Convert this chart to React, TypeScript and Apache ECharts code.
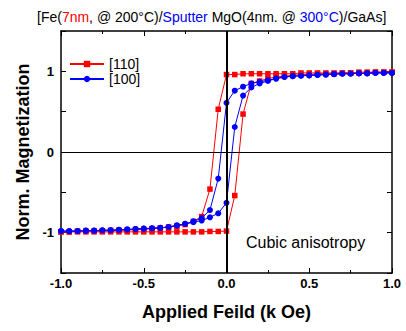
import React, { useEffect, useRef } from "react";
import * as echarts from "echarts";

const FONT = "'Liberation Sans', Arial, sans-serif";

// Field (kOe) for the descending sweep (+1 -> -1) and ascending sweep (-1 -> +1)
const fieldDown = [
  1.0, 0.95, 0.9, 0.85, 0.8, 0.75, 0.7, 0.65, 0.6, 0.55, 0.5, 0.45, 0.4, 0.35, 0.3, 0.25, 0.2, 0.15, 0.1, 0.05, 0.0,
  -0.05, -0.1, -0.15, -0.2, -0.25, -0.3, -0.35, -0.4, -0.45, -0.5, -0.55, -0.6, -0.65, -0.7, -0.75, -0.8, -0.85, -0.9, -0.95, -1.0,
];
const fieldUp = [
  -1.0, -0.95, -0.9, -0.85, -0.8, -0.75, -0.7, -0.65, -0.6, -0.55, -0.5, -0.45, -0.4, -0.35, -0.3, -0.25, -0.2, -0.15, -0.1, -0.05, 0.0,
  0.05, 0.1, 0.15, 0.2, 0.25, 0.3, 0.35, 0.4, 0.45, 0.5, 0.55, 0.6, 0.65, 0.7, 0.75, 0.8, 0.85, 0.9, 0.95, 1.0,
];

// [110]
const m110Down = [
  0.99, 0.99, 0.99, 0.99, 0.99, 0.98, 0.98, 0.98, 0.98, 0.98, 0.98, 0.98, 0.97, 0.97, 0.97, 0.97, 0.97, 0.97, 0.97, 0.96, 0.96,
  0.53, -0.46, -0.8, -0.86, -0.9, -0.92, -0.93, -0.94, -0.95, -0.96, -0.96, -0.97, -0.97, -0.97, -0.98, -0.98, -0.98, -0.98, -0.99, -0.99,
];
const m110Up = [
  -0.99, -0.99, -0.99, -0.99, -0.99, -0.99, -0.99, -0.99, -0.99, -0.99, -0.99, -0.99, -0.99, -0.99, -0.99, -0.99, -0.99, -0.99, -0.985, -0.985, -0.98,
  -0.54, 0.47, 0.85, 0.88, 0.91, 0.93, 0.94, 0.95, 0.96, 0.96, 0.97, 0.97, 0.97, 0.98, 0.98, 0.98, 0.98, 0.99, 0.99, 0.99,
];

// [100]
const m100Down = [
  0.98, 0.98, 0.98, 0.975, 0.975, 0.97, 0.97, 0.965, 0.96, 0.955, 0.95, 0.945, 0.94, 0.93, 0.91, 0.89, 0.87, 0.85, 0.81, 0.76, 0.61,
  -0.33, -0.72, -0.82, -0.86, -0.89, -0.91, -0.93, -0.94, -0.945, -0.95, -0.955, -0.96, -0.965, -0.97, -0.97, -0.975, -0.975, -0.98, -0.98, -0.98,
];
const m100Up = [
  -0.98, -0.98, -0.98, -0.975, -0.975, -0.97, -0.97, -0.965, -0.96, -0.955, -0.95, -0.945, -0.94, -0.93, -0.91, -0.89, -0.87, -0.85, -0.81, -0.76, -0.63,
  0.31, 0.7, 0.8, 0.85, 0.88, 0.91, 0.93, 0.94, 0.945, 0.95, 0.955, 0.96, 0.965, 0.97, 0.97, 0.975, 0.975, 0.98, 0.98, 0.98,
];

const seriesNames = ["[110]", "[100]"];
const xTickLabels = ["-1.0", "-0.5", "0.0", "0.5", "1.0"];
const yTickLabels = ["-1", "0", "1"];

function loop(down: number[], up: number[]) {
  const pts: number[][] = [];
  fieldDown.forEach((x, i) => pts.push([x, down[i]]));
  fieldUp.forEach((x, i) => pts.push([x, up[i]]));
  return pts;
}

export default function App() {
  const ref = useRef<HTMLDivElement>(null);
  useEffect(() => {
    document.body.style.margin = "0";
    const chart = echarts.init(ref.current!, undefined, { renderer: "svg" });
    const axisLineStyle = { color: "#000", width: 1.5 };
    const xCommon = {
      type: "value" as const,
      min: -1,
      max: 1,
      interval: 0.5,
      axisLine: { show: true, onZero: false, lineStyle: axisLineStyle },
      axisTick: { show: true, inside: true, length: 5, lineStyle: { color: "#000", width: 1 } },
      minorTick: { show: true, splitNumber: 2, length: 3, lineStyle: { color: "#000", width: 1 } },
      splitLine: { show: false },
    };
    const yCommon = {
      type: "value" as const,
      min: -1.5,
      max: 1.5,
      interval: 0.5,
      axisLine: { show: true, onZero: false, lineStyle: axisLineStyle },
      axisTick: { show: true, inside: true, length: 5, lineStyle: { color: "#000", width: 1 } },
      splitLine: { show: false },
    };
    chart.setOption({
      animation: false,
      backgroundColor: "#fff",
      textStyle: { fontFamily: FONT },
      title: {
        text:
          "{b|[Fe(}{r|7nm}{b|, @ 200°C)/}{bl|Sputter}{b| MgO(4nm. @ }{bl|300°C}{b|)/GaAs]}",
        left: 32,
        top: 5,
        textStyle: {
          fontFamily: FONT,
          fontSize: 14,
          fontWeight: "normal",
          rich: {
            b: { color: "#000", fontSize: 14, fontFamily: FONT },
            r: { color: "#ff0000", fontSize: 14, fontFamily: FONT },
            bl: { color: "#0000ff", fontSize: 14, fontFamily: FONT },
          },
        },
      },
      legend: {
        orient: "vertical",
        left: 64,
        top: 52,
        itemWidth: 34,
        itemHeight: 8,
        itemGap: 1,
        textStyle: { fontFamily: FONT, fontSize: 14, lineHeight: 13, color: "#000" },
        data: seriesNames,
      },
      grid: { left: 61, right: 14, top: 31, bottom: 58, containLabel: false },
      xAxis: [
        {
          ...xCommon,
          position: "bottom",
          name: "Applied Feild (k Oe)",
          nameLocation: "middle",
          nameGap: 30,
          nameTextStyle: { fontFamily: FONT, fontSize: 18, fontWeight: "bold", color: "#000" },
          axisLabel: {
            show: true,
            margin: 4,
            fontFamily: FONT,
            fontSize: 13,
            fontWeight: "bold",
            color: "#000",
            formatter: (v: number) => {
              const s = v.toFixed(1);
              return xTickLabels.includes(s) ? s : "";
            },
          },
        },
        { ...xCommon, position: "top", axisLabel: { show: false } },
      ],
      yAxis: [
        {
          ...yCommon,
          position: "left",
          name: "Norm. Magnetization",
          nameLocation: "middle",
          nameGap: 26,
          nameTextStyle: { fontFamily: FONT, fontSize: 18, fontWeight: "bold", color: "#000" },
          axisLabel: {
            show: true,
            margin: 7,
            fontFamily: FONT,
            fontSize: 13,
            fontWeight: "bold",
            color: "#000",
            formatter: (v: number) => {
              const s = String(Math.round(v * 10) / 10);
              return yTickLabels.includes(s) ? s : "";
            },
          },
        },
        { ...yCommon, position: "right", axisLabel: { show: false } },
      ],
      series: [
        {
          name: seriesNames[0],
          type: "line",
          xAxisIndex: 0,
          yAxisIndex: 0,
          data: loop(m110Down, m110Up),
          symbol: "rect",
          symbolSize: 5.5,
          showSymbol: true,
          lineStyle: { color: "#ff0000", width: 1 },
          itemStyle: { color: "#ff0000" },
          z: 3,
          markLine: {
            silent: true,
            symbol: "none",
            label: { show: false },
            data: [
              { xAxis: 0, lineStyle: { color: "#000", width: 2, type: "solid" } },
              { yAxis: 0, lineStyle: { color: "#000", width: 1.2, type: "solid" } },
            ],
          },
        },
        {
          name: seriesNames[1],
          type: "line",
          xAxisIndex: 0,
          yAxisIndex: 0,
          data: loop(m100Down, m100Up),
          symbol: "circle",
          symbolSize: 6,
          showSymbol: true,
          lineStyle: { color: "#0000ff", width: 1 },
          itemStyle: { color: "#0000ff" },
          z: 4,
        },
      ],
      graphic: [
        {
          type: "text",
          left: 246,
          top: 234,
          style: { text: "Cubic anisotropy", fontFamily: FONT, fontSize: 16, fill: "#000" },
        },
      ],
    });
    return () => chart.dispose();
  }, []);
  return <div ref={ref} style={{ width: 406, height: 331 }} />;
}
